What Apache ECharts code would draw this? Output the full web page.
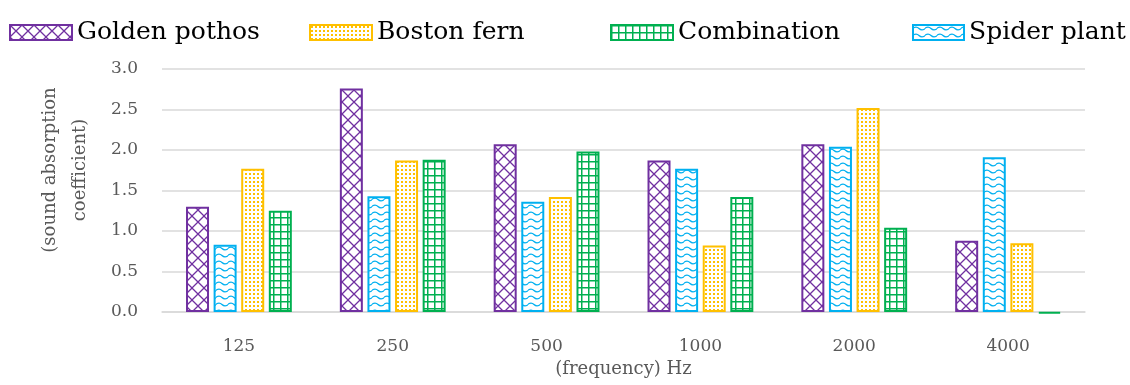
<!DOCTYPE html>
<html>
<head>
<meta charset="utf-8">
<script src="https://cdn.jsdelivr.net/npm/echarts@6/dist/echarts.min.js"></script>
<style>html,body{margin:0;padding:0;background:#fff;}#chart{width:1130px;height:385px;}</style>
</head>
<body>
<div id="chart"></div>
<script>
const categories = ['125', '250', '500', '1000', '2000', '4000'];
const goldenPothos = [1.30, 2.76, 2.07, 1.87, 2.07, 0.88];
const spiderPlant = [0.83, 1.43, 1.36, 1.77, 2.04, 1.91];
const bostonFern = [1.77, 1.87, 1.42, 0.82, 2.52, 0.85];
const combination = [1.25, 1.88, 1.98, 1.42, 1.04, -0.02];
const yTicks = { min: 0, max: 3, interval: 0.5 };
const xName = '(frequency) Hz';
const yName = '(sound absorption\ncoefficient)';

function makePattern(w, h, draw) {
  const c = document.createElement('canvas');
  c.width = w; c.height = h;
  const ctx = c.getContext('2d');
  ctx.fillStyle = '#ffffff';
  ctx.fillRect(0, 0, w, h);
  draw(ctx);
  return { image: c, repeat: 'repeat' };
}
const PURPLE = '#7030A0', BLUE = '#00B0F0', ORANGE = '#FFC000', GREEN = '#00B050';

const crossPattern = makePattern(12, 12, ctx => {
  ctx.strokeStyle = PURPLE; ctx.lineWidth = 1.3;
  ctx.beginPath();
  ctx.moveTo(-1, -1); ctx.lineTo(13, 13);
  ctx.moveTo(13, -1); ctx.lineTo(-1, 13);
  ctx.stroke();
});
const wavePattern = makePattern(12, 7, ctx => {
  ctx.strokeStyle = BLUE; ctx.lineWidth = 1.3;
  ctx.beginPath();
  ctx.moveTo(-1, 4);
  ctx.quadraticCurveTo(3, 0.5, 6, 3.5);
  ctx.quadraticCurveTo(9, 6.5, 13, 3);
  ctx.stroke();
});
const dotPattern = makePattern(4, 4, ctx => {
  ctx.fillStyle = ORANGE;
  ctx.fillRect(1, 1, 2, 2);
});
const gridPattern = makePattern(7, 7, ctx => {
  ctx.fillStyle = GREEN;
  ctx.fillRect(0, 0, 7, 1.5);
  ctx.fillRect(0, 0, 1.5, 7);
});

const FONT = 'DejaVu Serif';
const chart = echarts.init(document.getElementById('chart'), null, { renderer: 'canvas' });

function barSeries(name, data, pattern, border) {
  return {
    name: name, type: 'bar', data: data, barWidth: 23, barGap: '20%', clip: false,
    itemStyle: { color: pattern, borderColor: border, borderWidth: 2 },
    emphasis: { disabled: true }
  };
}
function legendItem(name, left, width) {
  return {
    data: [name], left: left, top: 15, icon: 'rect', itemWidth: width, itemHeight: 15,
    textStyle: { fontFamily: FONT, fontSize: 25, color: '#000' }, selectedMode: false
  };
}

chart.setOption({
  animation: false,
  backgroundColor: '#ffffff',
  grid: { left: 162, right: 45, top: 69, bottom: 73 },
  legend: [
    legendItem('Golden pothos', 4, 62),
    legendItem('Boston fern', 304, 62),
    legendItem('Combination', 605, 62),
    legendItem('Spider plant', 907, 51)
  ],
  xAxis: {
    type: 'category', data: categories,
    axisLine: { show: true, lineStyle: { color: '#d9d9d9', width: 1.5 } },
    axisTick: { show: false },
    axisLabel: { margin: 26, fontFamily: FONT, fontSize: 17, color: '#595959' },
    name: xName, nameLocation: 'middle', nameGap: 46,
    nameTextStyle: { fontFamily: FONT, fontSize: 18, color: '#595959' }
  },
  yAxis: {
    type: 'value', min: yTicks.min, max: yTicks.max, interval: yTicks.interval,
    axisLine: { show: false }, axisTick: { show: false },
    splitLine: { lineStyle: { color: '#d9d9d9', width: 1.5 } },
    axisLabel: { margin: 24, fontFamily: FONT, fontSize: 17, color: '#595959', formatter: v => v.toFixed(1) }
  },
  graphic: [{
    type: 'text', x: 65, y: 170, rotation: Math.PI / 2,
    style: { text: yName, fontFamily: FONT, fontSize: 18, fill: '#595959', align: 'center', verticalAlign: 'middle', lineHeight: 30 }
  }],
  series: [
    barSeries('Golden pothos', goldenPothos, crossPattern, PURPLE),
    barSeries('Spider plant', spiderPlant, wavePattern, BLUE),
    barSeries('Boston fern', bostonFern, dotPattern, ORANGE),
    barSeries('Combination', combination, gridPattern, GREEN)
  ]
});
</script>
</body>
</html>
